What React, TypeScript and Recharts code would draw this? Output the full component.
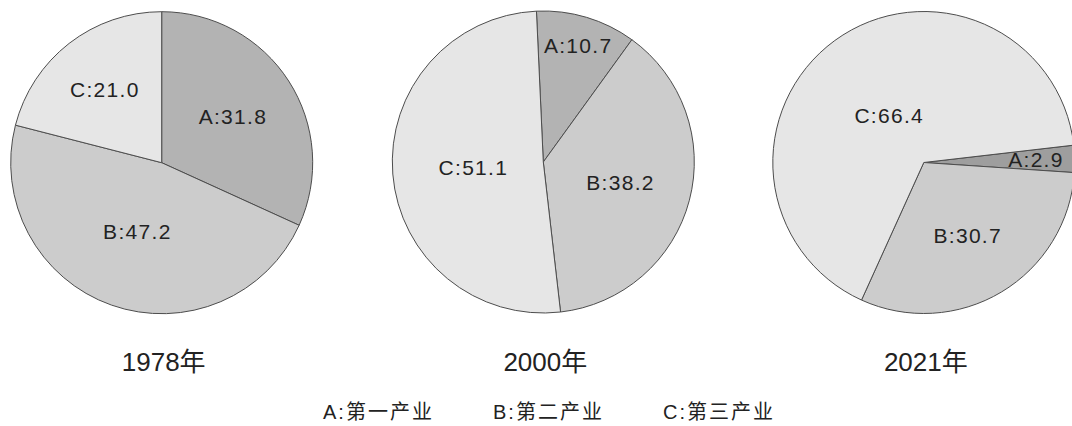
import { PieChart, Pie, Cell } from 'recharts'

const categories = ['A', 'B', 'C']
const legendLabels = ['A:第一产业', 'B:第二产业', 'C:第三产业']
const years = ['1978年', '2000年', '2021年']

const values1978 = [31.8, 47.2, 21.0]
const values2000 = [10.7, 38.2, 51.1]
const values2021 = [2.9, 30.7, 66.4]

const W = 1072
const H = 426
const R = 151
const FONT = '"Liberation Sans", Arial, "Noto Sans CJK SC", sans-serif'
const RAD = Math.PI / 180

const fills = ['#b3b3b3', '#cccccc', '#e6e6e6']
const fills2021 = ['#9e9e9e', '#cccccc', '#e6e6e6']

const pies = [
  { year: years[0], values: values1978, cx: 161.7, cy: 162.7, start: 90, fills },
  { year: years[1], values: values2000, cx: 543.3, cy: 162, start: 92.6, fills },
  { year: years[2], values: values2021, cx: 923.8, cy: 162.5, start: 6.6, fills: fills2021 },
]

function toRows(values: number[]) {
  return categories.map((c, i) => ({ name: c, value: values[i] }))
}

// small slices get their label pushed out toward the rim
// eslint-disable-next-line @typescript-eslint/no-explicit-any
function renderLabel(props: any) {
  const { cx, cy, midAngle, outerRadius, percent, payload } = props
  const k = percent < 0.15 ? 0.72 + 0.8 * percent : 0.72 - 0.5 * percent
  const r = outerRadius * k
  const x = cx + r * Math.cos(-midAngle * RAD)
  const y = cy + r * Math.sin(-midAngle * RAD)
  return (
    <text
      x={x}
      y={y}
      textAnchor="middle"
      dominantBaseline="central"
      fill="#222"
      fontSize={21}
      letterSpacing={1.3}
      fontFamily={FONT}
    >
      {`${payload.name}:${payload.value.toFixed(1)}`}
    </text>
  )
}

export default function App() {
  return (
    <div style={{ position: 'absolute', left: 0, top: 0, width: W, height: H, background: '#fff', overflow: 'hidden' }}>
      <PieChart width={W} height={H} margin={{ top: 0, right: 0, bottom: 0, left: 0 }}>
        {pies.map((p) => (
          <Pie
            key={p.year}
            data={toRows(p.values)}
            dataKey="value"
            nameKey="name"
            cx={p.cx}
            cy={p.cy}
            outerRadius={R}
            startAngle={p.start}
            endAngle={p.start - 360}
            stroke="#4d4d4d"
            strokeWidth={1}
            label={renderLabel}
            labelLine={false}
            isAnimationActive={false}
          >
            {p.values.map((_, i) => (
              <Cell key={i} fill={p.fills[i]} />
            ))}
          </Pie>
        ))}
      </PieChart>
      <svg
        width={W}
        height={H}
        style={{ position: 'absolute', left: 0, top: 0, pointerEvents: 'none' }}
      >
        {pies.map((p) => (
          <text
            key={p.year}
            x={p.cx + 2}
            y={370.5}
            textAnchor="middle"
            fontSize={26}
            fill="#222"
            fontFamily={FONT}
          >
            {p.year}
          </text>
        ))}
        {legendLabels.map((t, i) => (
          <text
            key={t}
            x={323 + i * 170}
            y={418.5}
            fontSize={20}
            letterSpacing={2}
            fill="#222"
            fontFamily={FONT}
          >
            {t}
          </text>
        ))}
      </svg>
    </div>
  )
}
